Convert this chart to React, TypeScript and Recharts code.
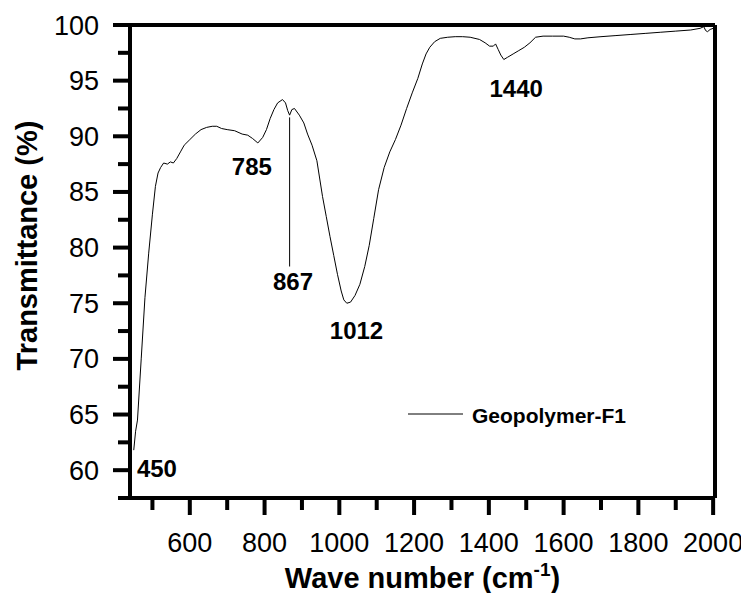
import React from "react";
import {
  LineChart,
  Line,
  XAxis,
  YAxis,
  ReferenceLine,
  ReferenceDot,
  Legend,
} from "recharts";

// FTIR spectrum
const WAVENUMBER = [
  450, 455, 460, 470, 480, 490, 500, 508, 515, 522, 530, 540, 548, 556, 565,
  575, 585, 600, 615, 630, 645, 660, 672, 685, 700, 720, 740, 755, 768, 782,
  795, 805, 815, 825, 835, 848, 856, 862, 867, 873, 880, 893, 905, 915, 927,
  940, 955, 965, 975, 985, 995, 1005, 1012, 1020, 1030, 1042, 1055, 1068, 1080,
  1092, 1105, 1120, 1135, 1150, 1165, 1180, 1195, 1210, 1222, 1232, 1242, 1255,
  1270, 1290, 1310, 1330, 1350, 1375, 1390, 1402, 1412, 1418, 1425, 1432, 1440,
  1450, 1465, 1480, 1495, 1510, 1525, 1545, 1570, 1600, 1615, 1630, 1645, 1665,
  1700, 1740, 1780, 1820, 1860, 1900, 1940, 1965, 1975, 1980, 1985, 1992, 2000,
];
const TRANSMITTANCE = [
  61.8, 63.5, 64.5, 70, 75.5, 79.5, 83, 85.5, 86.7, 87.2, 87.6, 87.5, 87.7, 87.6,
  88.0, 88.6, 89.2, 89.7, 90.2, 90.6, 90.8, 90.9, 90.9, 90.7, 90.6, 90.5, 90.2,
  90.1, 89.8, 89.4, 89.9, 90.6, 91.6, 92.4, 93.0, 93.3, 93.0, 92.3, 91.9, 92.4,
  92.5, 91.9, 91.2, 90.2, 89.2, 87.8, 84.6, 82.8, 81.0, 79.3, 77.6, 76.1, 75.3,
  75.0, 75.1, 75.7, 76.7, 78.3, 80.2, 82.6, 85.2, 87.2, 88.6, 89.7, 91.0, 92.5,
  93.9, 95.2, 96.5, 97.4, 98.0, 98.5, 98.8, 98.9, 98.95, 98.95, 98.9, 98.7, 98.4,
  98.1, 98.1, 98.3, 97.8, 97.3, 96.9, 97.1, 97.4, 97.7, 98.0, 98.4, 98.9, 99.0,
  99.0, 99.0, 98.9, 98.75, 98.75, 98.85, 98.95, 99.05, 99.15, 99.25, 99.35,
  99.45, 99.55, 99.7, 99.85, 99.5, 99.4, 99.6, 99.7,
];

const X_MAJOR = [600, 800, 1000, 1200, 1400, 1600, 1800, 2000];
const X_MINOR = [500, 700, 900, 1100, 1300, 1500, 1700, 1900];
const Y_MAJOR = [60, 65, 70, 75, 80, 85, 90, 95, 100];
const Y_MINOR = [57.5, 62.5, 67.5, 72.5, 77.5, 82.5, 87.5, 92.5, 97.5];

const PEAK_TEXT = ["450", "785", "867", "1012", "1440"];
const PEAK_X = [512, 766, 876, 1046, 1473];
const PEAK_Y = [59.4, 86.5, 76.2, 71.8, 93.5];

const SERIES_NAME = "Geopolymer-F1";
const FONT = "'Liberation Sans', Arial, Helvetica, sans-serif";

const data = WAVENUMBER.map((w, i) => ({ w, t: TRANSMITTANCE[i] }));

const XTick = (props: any) => {
  const { x, y, payload } = props;
  const major = X_MAJOR.includes(payload.value);
  return (
    <g>
      <rect x={x - 2} y={y} width={4} height={major ? 17 : 12} fill="#000" />
      {major && (
        <text x={x} y={y + 54} textAnchor="middle" fontSize={27} fontFamily={FONT} fill="#000">
          {payload.value}
        </text>
      )}
    </g>
  );
};

const YTick = (props: any) => {
  const { x, y, payload } = props;
  const major = Y_MAJOR.includes(payload.value);
  const len = major ? 17 : 12;
  return (
    <g>
      <rect x={x - len} y={y - 2} width={len} height={4} fill="#000" />
      {major && (
        <text x={x - 31} y={y + 9.5} textAnchor="end" fontSize={27} fontFamily={FONT} fill="#000">
          {payload.value}
        </text>
      )}
    </g>
  );
};

const XTitle = (props: any) => {
  const vb = props.viewBox || { x: 122, y: 490, width: 585, height: 95 };
  return (
    <text
      x={vb.x + vb.width / 2}
      y={vb.y + 90}
      textAnchor="middle"
      fontSize={29}
      fontWeight="bold"
      fontFamily={FONT}
      fill="#000"
    >
      Wave number (cm
      <tspan fontSize={19} dy={-12}>-1</tspan>
      <tspan dy={12}>)</tspan>
    </text>
  );
};

const YTitle = (props: any) => {
  const vb = props.viewBox || { x: 0, y: 17, width: 122, height: 473 };
  const cx = vb.x + 29;
  const cy = vb.y + vb.height / 2 - 16;
  return (
    <text
      x={cx}
      y={cy}
      transform={`rotate(-90 ${cx} ${cy})`}
      textAnchor="middle"
      fontSize={29}
      fontWeight="bold"
      fontFamily={FONT}
      fill="#000"
    >
      Transmittance (%)
    </text>
  );
};

const PeakText = (text: string) => (props: any) => (
  <text
    x={props.cx}
    y={props.cy}
    textAnchor="middle"
    fontSize={24}
    fontWeight="bold"
    fontFamily={FONT}
    fill="#000"
  >
    {text}
  </text>
);

const LegendBox = () => (
  <svg width={240} height={34}>
    <line x1={4} x2={59} y1={13} y2={13} stroke="#000" strokeWidth={1} />
    <text x={68} y={22} fontSize={21} fontWeight="bold" fontFamily={FONT} fill="#000">
      {SERIES_NAME}
    </text>
  </svg>
);

const frame = { stroke: "#000", strokeWidth: 4 };

export default function App() {
  return (
    <LineChart
      width={741}
      height={585}
      data={data}
      margin={{ top: 16, right: 33, bottom: 0, left: 0 }}
    >
      <XAxis
        dataKey="w"
        type="number"
        domain={[440, 2005]}
        allowDataOverflow
        ticks={[...X_MINOR, ...X_MAJOR].sort((a, b) => a - b)}
        interval={0}
        tick={<XTick />}
        tickLine={false}
        tickSize={0}
        tickMargin={0}
        height={95}
        axisLine={frame}
        label={{ content: (p: any) => <XTitle {...p} /> }}
      />
      <XAxis
        xAxisId="top"
        orientation="top"
        dataKey="w"
        type="number"
        domain={[440, 2005]}
        allowDataOverflow
        height={1}
        tick={false}
        tickLine={false}
        axisLine={frame}
      />
      <YAxis
        type="number"
        domain={[57.5, 100]}
        allowDataOverflow
        ticks={[...Y_MINOR, ...Y_MAJOR].sort((a, b) => a - b)}
        interval={0}
        tick={<YTick />}
        tickLine={false}
        tickSize={0}
        tickMargin={0}
        width={122}
        axisLine={frame}
        label={{ content: (p: any) => <YTitle {...p} /> }}
      />
      <YAxis
        yAxisId="right"
        orientation="right"
        type="number"
        domain={[57.5, 100]}
        allowDataOverflow
        width={1}
        tick={false}
        tickLine={false}
        axisLine={frame}
      />
      <Line
        type="linear"
        dataKey="t"
        name={SERIES_NAME}
        stroke="#000"
        strokeWidth={1}
        dot={false}
        isAnimationActive={false}
      />
      <ReferenceLine
        segment={[
          { x: 867, y: 91.7 },
          { x: 867, y: 78.3 },
        ]}
        stroke="#000"
        strokeWidth={1}
      />
      {PEAK_TEXT.map((t, i) => (
        <ReferenceDot
          key={t}
          x={PEAK_X[i]}
          y={PEAK_Y[i]}
          r={0}
          shape={PeakText(t)}
        />
      ))}
      <Legend
        layout="vertical"
        align="center"
        verticalAlign="middle"
        wrapperStyle={{ left: 396, top: 393, width: 240 }}
        content={<LegendBox />}
      />
    </LineChart>
  );
}
